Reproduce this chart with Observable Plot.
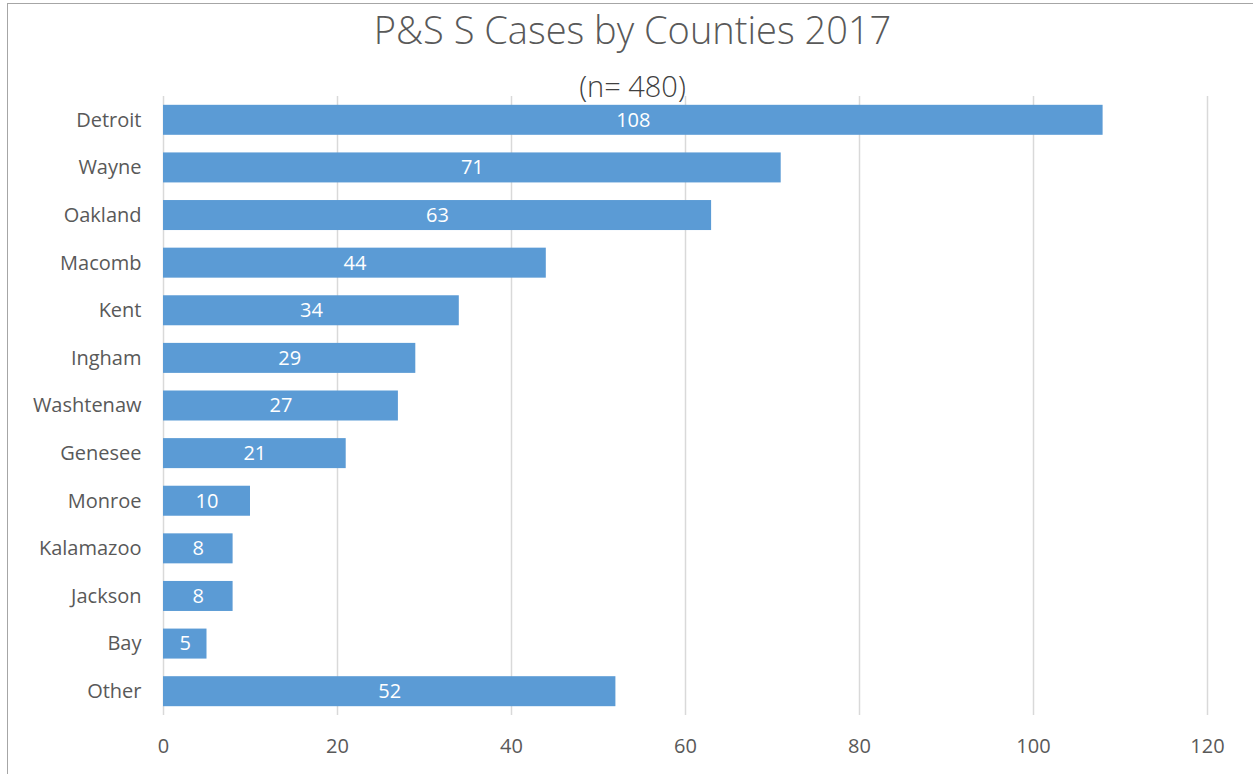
<!DOCTYPE html>
<html>
<head>
<meta charset="utf-8">
<script src="https://cdn.jsdelivr.net/npm/d3@7"></script>
<script src="https://cdn.jsdelivr.net/npm/@observablehq/plot@0.6"></script>
<style>
  html, body { margin: 0; padding: 0; background: #fff; overflow: hidden; }
  #wrap { position: relative; width: 1253px; height: 774px; overflow: hidden; font-family: "Open Sans", Lato, sans-serif; }
  #frame { position: absolute; left: 7px; top: 3px; width: 1300px; height: 820px; border: 1.5px solid #a6a6a6; box-sizing: border-box; }
  #title { position: absolute; left: 0; width: 1265px; top: 3px; text-align: center; font-size: 38px; font-weight: 300; color: #595959; white-space: nowrap; }
  #subtitle { position: absolute; left: 0; width: 1265px; top: 66px; text-align: center; font-size: 29px; font-weight: 300; color: #404040; white-space: nowrap; }
  #chart { position: absolute; left: 0; top: 0; }
</style>
</head>
<body>
<div id="wrap">
  <div id="frame"></div>
  <div id="chart"></div>
  <div id="title">P&amp;S S Cases by Counties 2017</div>
  <div id="subtitle">(n= 480)</div>
</div>
<script>
const counties = ["Detroit", "Wayne", "Oakland", "Macomb", "Kent", "Ingham", "Washtenaw", "Genesee", "Monroe", "Kalamazoo", "Jackson", "Bay", "Other"];
const cases = [108, 71, 63, 44, 34, 29, 27, 21, 10, 8, 8, 5, 52];
const xTicks = [0, 20, 40, 60, 80, 100, 120];

const data = counties.map((c, i) => ({county: c, value: cases[i]}));

const chart = Plot.plot({
  width: 1253,
  height: 774,
  marginLeft: 163,
  marginRight: 46,
  marginTop: 96,
  marginBottom: 59,
  style: {fontFamily: "'Open Sans', Lato, sans-serif", fontSize: "20px", color: "#595959", background: "transparent"},
  x: {domain: [0, 120], ticks: xTicks, label: null},
  y: {domain: counties, label: null, paddingInner: 0.37, paddingOuter: 0.185, round: false},
  marks: [
    Plot.ruleX(xTicks, {stroke: "#d9d9d9", strokeWidth: 1.5}),
    Plot.barX(data, {x: "value", y: "county", fill: "#5B9BD5"}),
    Plot.text(data, {x: d => d.value / 2, y: "county", text: d => String(d.value), fill: "#ffffff", fontSize: 20}),
    Plot.axisX({ticks: xTicks, tickSize: 0, tickPadding: 23, label: null, fontSize: 20}),
    Plot.axisY({tickSize: 0, tickPadding: 22, label: null, fontSize: 20})
  ]
});
document.getElementById("chart").appendChild(chart);
</script>
</body>
</html>
